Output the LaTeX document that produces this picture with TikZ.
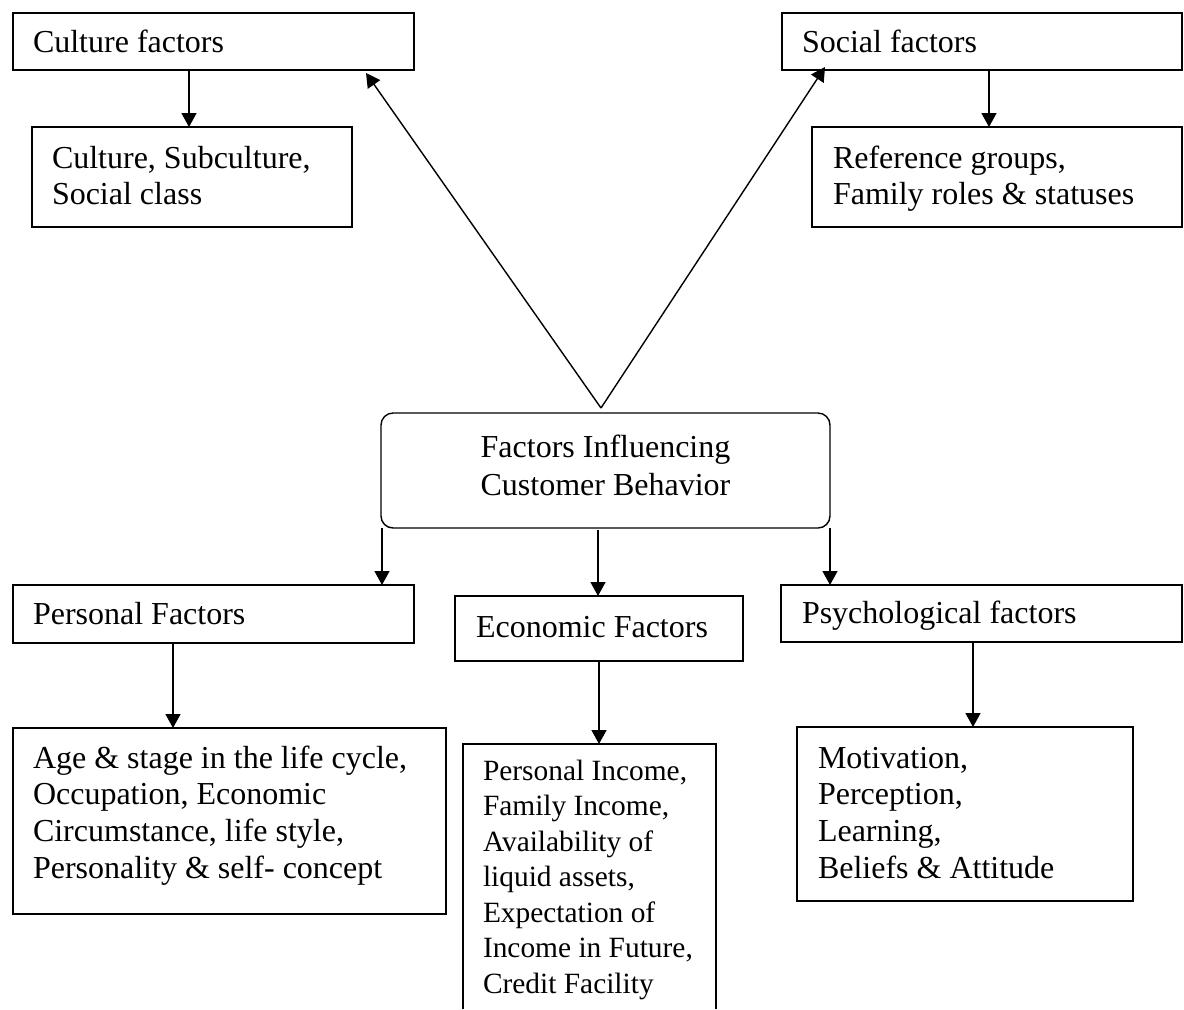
\documentclass[tikz,border=0pt]{standalone}
\usepackage{fontspec}
\setmainfont{Liberation Serif}
\usetikzlibrary{arrows.meta,calc}

% left-aligned block of lines, fixed width, baseline at the first line
\newcommand\lblock[2]{\makebox[#1][l]{\begin{tabular}[t]{@{}l@{}}#2\end{tabular}}}
% centred block of lines, fixed width, baseline at the first line
\newcommand\cblock[2]{\makebox[#1][c]{\begin{tabular}[t]{@{}c@{}}#2\end{tabular}}}

\tikzset{
  box/.style={draw, line width=0.7pt, anchor=north west, inner ysep=0pt,
    outer sep=0pt, minimum width=0pt, minimum height=0pt,
    font=\fontsize{16}{18.35}\selectfont},
  openbox/.style={box, draw=none},
  arr/.style={line width=0.7pt, -{Triangle[length=7pt,width=7.5pt]}},
}

\begin{document}
\begin{tikzpicture}[x={(0.5pt,0)}, y={(0,-0.5pt)}]
\useasboundingbox (0,0) rectangle (1184,1009);

% top row
\node[box, inner xsep=10pt, text height=19.5pt, text depth=9pt] (cult) at (13,13)
  {\lblock{180.5pt}{Culture factors}};
\node[box, inner xsep=10pt, text height=20.5pt, text depth=29.5pt] (cultsub) at (32,127)
  {\lblock{140pt}{Culture, Subculture,\\Social class}};
\node[box, inner xsep=10pt, text height=19.5pt, text depth=9pt] (soc) at (782,13)
  {\lblock{180pt}{Social factors}};
\node[box, inner xsep=10.5pt, text height=20.5pt, text depth=29.5pt] (socsub) at (812,127)
  {\lblock{164pt}{Reference groups,\\Family roles \& statuses}};

% centre
\node[box, rounded corners=6pt, inner xsep=10pt, text height=22pt, text depth=35.5pt,
  font=\fontsize{16}{19}\selectfont] (center) at (381,413)
  {\cblock{204.5pt}{Factors Influencing\\Customer Behavior}};

% second row
\node[box, inner xsep=10pt, text height=19.5pt, text depth=9.5pt] (pers) at (13,585)
  {\lblock{180.5pt}{Personal Factors}};
\node[box, inner xsep=10.5pt, text height=20.5pt, text depth=12pt] (econ) at (455,596)
  {\lblock{123pt}{Economic Factors}};
\node[box, inner xsep=10.5pt, text height=19pt, text depth=9.5pt] (psych) at (781,585)
  {\lblock{179.5pt}{Psychological factors}};

% detail boxes
\node[box, inner xsep=10pt, text height=20pt, text depth=73pt] (age) at (13,728)
  {\lblock{196.5pt}{Age \& stage in the life cycle,\\Occupation, Economic\\Circumstance, life style,\\Personality \& self- concept}};
\node[openbox, inner xsep=10pt, text height=18pt, text depth=114.5pt,
  font=\fontsize{14.7}{17.75}\selectfont] (inc) at (463,744)
  {\lblock{106.5pt}{Personal Income,\\Family Income,\\Availability of\\liquid assets,\\Expectation of\\Income in Future,\\Credit Facility}};
\draw[line width=0.7pt] (inc.south west) -- (inc.north west) -- (inc.north east) -- (inc.south east);
\node[box, inner xsep=10.5pt, text height=20.5pt, text depth=66.5pt] (mot) at (797,727)
  {\lblock{147pt}{Motivation,\\Perception,\\Learning,\\Beliefs \& Attitude}};

% connectors
\coordinate (apex) at ($(center.north)+(-4.5,-5)$);
\draw[arr] (apex) -- ($(cult.south west)+(353,3)$);
\draw[arr] (apex) -- ($(soc.south west)+(43,-3)$);

\draw[arr] ($(cult.south west)+(176,0)$) -- ($(cultsub.north west)+(157,0)$);
\draw[arr] ($(soc.south west)+(207,0)$) -- ($(socsub.north west)+(177,0)$);

\draw[arr] ($(center.south west)+(1,0)$) -- ($(pers.north west)+(369,0)$);
\draw[arr] ($(center.south west)+(217,2)$) -- ($(econ.north west)+(143,0)$);
\draw[arr] (center.south east) -- ($(psych.north west)+(49,0)$);

\draw[arr] ($(pers.south west)+(160,0)$) -- ($(age.north west)+(160,0)$);
\draw[arr] ($(econ.south west)+(144,0)$) -- ($(inc.north west)+(136,0)$);
\draw[arr] ($(psych.south west)+(192,0)$) -- ($(mot.north west)+(176,0)$);
\end{tikzpicture}
\end{document}
